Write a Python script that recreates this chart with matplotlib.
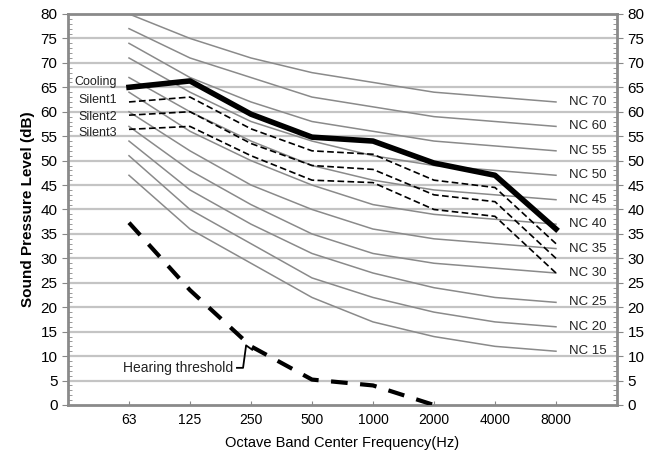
import numpy as np
import matplotlib
matplotlib.use("Agg")
import matplotlib.pyplot as plt
from matplotlib.ticker import MultipleLocator

plt.rcParams['font.family'] = ['Liberation Sans', 'DejaVu Sans']

freqs = ['63', '125', '250', '500', '1000', '2000', '4000', '8000']

nc_labels = ['NC 70', 'NC 60', 'NC 55', 'NC 50', 'NC 45', 'NC 40',
             'NC 35', 'NC 30', 'NC 25', 'NC 20', 'NC 15']
nc_curves = [
    [80, 75, 71, 68, 66, 64, 63, 62],
    [77, 71, 67, 63, 61, 59, 58, 57],
    [74, 67, 62, 58, 56, 54, 53, 52],
    [71, 64, 58, 54, 51, 49, 48, 47],
    [67, 60, 54, 49, 46, 44, 43, 42],
    [64, 56, 50, 45, 41, 39, 38, 37],
    [60, 52, 45, 40, 36, 34, 33, 32],
    [57, 48, 41, 35, 31, 29, 28, 27],
    [54, 44, 37, 31, 27, 24, 22, 21],
    [51, 40, 33, 26, 22, 19, 17, 16],
    [47, 36, 29, 22, 17, 14, 12, 11],
]

cooling = [65, 66.3, 59.5, 54.8, 54, 49.5, 47, 36]
silent1 = [62, 63, 56.5, 52, 51.3, 46, 44.5, 33]
silent2 = [59.3, 60, 53.5, 49, 48.2, 43, 41.6, 30]
silent3 = [56.4, 57, 51, 46, 45.5, 40, 38.6, 27]
hearing = [37.3, 23.5, 12, 5.2, 4, 0]

x = np.arange(len(freqs))

fig = plt.figure(figsize=(6.62, 4.57), dpi=100)
ax = fig.add_axes([0.1027, 0.1138, 0.8293, 0.8556])

for v in range(5, 80, 5):
    ax.axhline(v, color='#c4c4c4', lw=1.6, zorder=0)

for lab, vals in zip(nc_labels, nc_curves):
    ax.plot(x, vals, color='#8a8a8a', lw=1.1, zorder=2)
    ax.text(7.22, vals[-1], lab, ha='left', va='center', fontsize=9.5, color='#222222')

ax.plot(x, cooling, color='black', lw=4, zorder=4)
for s in (silent1, silent2, silent3):
    ax.plot(x, s, color='black', lw=1.2, ls=(0, (4, 2)), zorder=3)
ax.plot(x[:len(hearing)], hearing, color='black', lw=3, ls=(0, (4, 3)), zorder=3)

for lab, yv in zip(['Cooling', 'Silent1', 'Silent2', 'Silent3'], [66.0, 62.3, 58.9, 55.6]):
    ax.text(-0.2, yv, lab, ha='right', va='center', fontsize=9, color='#222222')

ax.text(-0.1, 7.6, 'Hearing threshold', ha='left', va='center', fontsize=10, color='#222222')
ax.plot([1.77, 1.87, 1.92, 2.02], [7.6, 7.6, 12.2, 11.3], color='black', lw=1.3)

ax.set_xlim(-1, 8)
ax.set_ylim(0, 80)
ax.set_xticks(x)
ax.set_xticklabels(freqs, fontsize=10)
ax.tick_params(axis='x', direction='in', length=3, color='#888888', pad=6)
ax.yaxis.set_major_locator(MultipleLocator(5))
ax.yaxis.set_minor_locator(MultipleLocator(1))
ax.tick_params(axis='y', which='both', left=True, right=True, labelleft=True, labelright=True,
               labelsize=11, color='#888888')
ax.tick_params(axis='y', which='major', direction='out', length=4)
ax.tick_params(axis='y', which='minor', direction='in', length=3)

for sp in ax.spines.values():
    sp.set_color('#8a8a8a')
    sp.set_linewidth(2)

ax.set_ylabel('Sound Pressure Level (dB)', fontsize=11, fontweight='bold')
ax.set_xlabel('Octave Band Center Frequency(Hz)', fontsize=10.5, labelpad=6)

fig.savefig('out.png', dpi=100)
